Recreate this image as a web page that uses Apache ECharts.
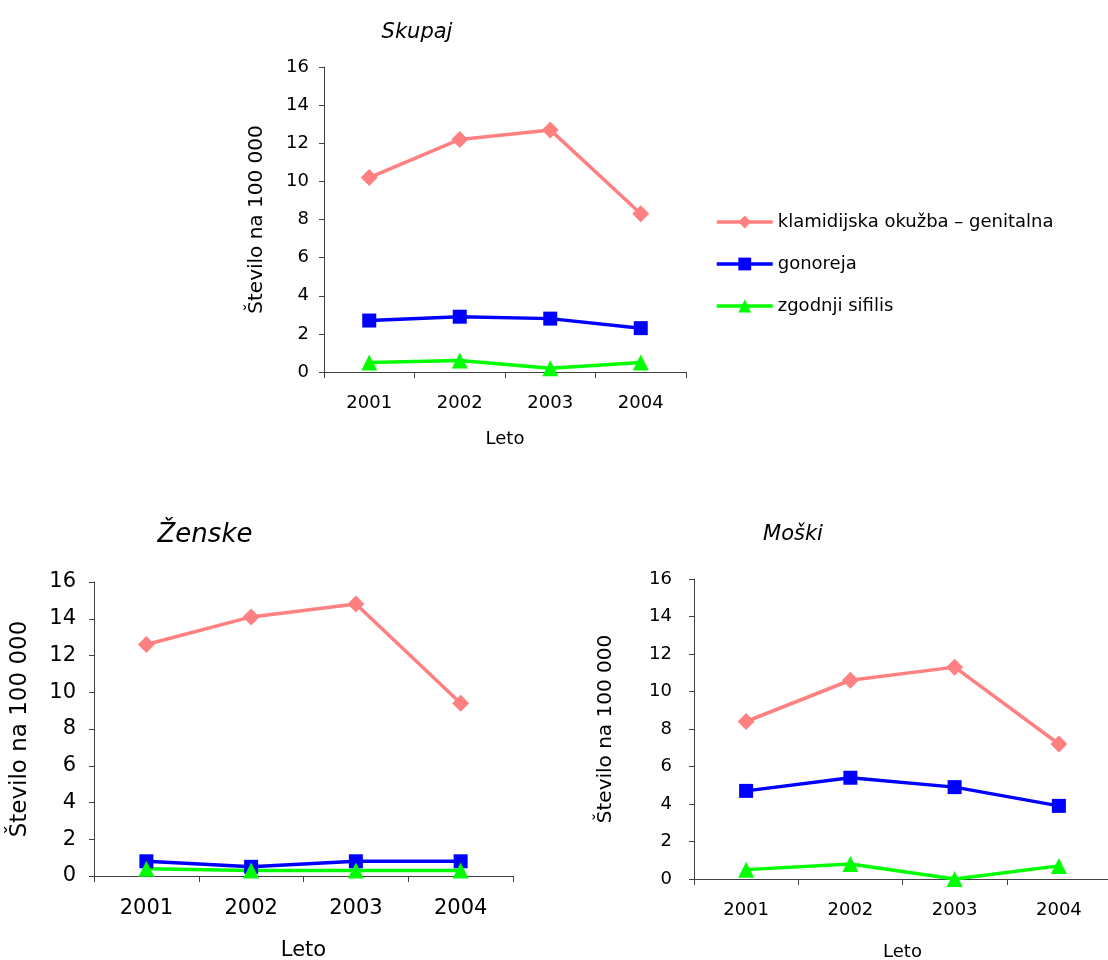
<!DOCTYPE html>
<html>
<head>
<meta charset="utf-8">
<script src="https://cdn.jsdelivr.net/npm/echarts@6/dist/echarts.min.js"></script>
<style>
  html, body { margin: 0; padding: 0; background: #fff; }
  #chart { width: 1108px; height: 960px; }
</style>
</head>
<body>
<div id="chart"></div>
<script>
// Years on the category axes
const years = ['2001', '2002', '2003', '2004'];
const yTicks = [0, 2, 4, 6, 8, 10, 12, 14, 16];

// Series names
const nameKlam = 'klamidijska okužba – genitalna';
const nameGon = 'gonoreja';
const nameSif = 'zgodnji sifilis';

// Skupaj (total), rate per 100 000
const skupajKlam = [10.2, 12.2, 12.7, 8.3];
const skupajGon = [2.7, 2.9, 2.8, 2.3];
const skupajSif = [0.5, 0.6, 0.2, 0.5];

// Ženske (women)
const zenskeKlam = [12.6, 14.1, 14.8, 9.4];
const zenskeGon = [0.8, 0.5, 0.8, 0.8];
const zenskeSif = [0.4, 0.3, 0.3, 0.3];

// Moški (men)
const moskiKlam = [8.4, 10.6, 11.3, 7.2];
const moskiGon = [4.7, 5.4, 4.9, 3.9];
const moskiSif = [0.5, 0.8, 0.0, 0.7];

const FONT = 'DejaVu Sans, Verdana, sans-serif';
const AXIS_COLOR = '#404040';
const COLORS = { klam: '#FF8080', gon: '#0000FF', sif: '#00FF00' };

function xAxisFor(gridIndex, fontSize, nameSize, nameGap, labelMargin) {
  return {
    type: 'category', gridIndex, data: years, boundaryGap: true,
    name: 'Leto', nameLocation: 'middle', nameGap,
    nameTextStyle: { fontFamily: FONT, fontSize: nameSize, color: '#000', verticalAlign: 'top' },
    axisLine: { show: true, lineStyle: { color: AXIS_COLOR, width: 1 } },
    axisTick: { show: true, inside: false, length: 6, alignWithLabel: false, lineStyle: { color: AXIS_COLOR } },
    axisLabel: { fontFamily: FONT, fontSize, color: '#000', margin: labelMargin },
    splitLine: { show: false }
  };
}

function yAxisFor(gridIndex, fontSize, nameSize, nameGap, labelMargin) {
  return {
    type: 'value', gridIndex, min: 0, max: 16, interval: 2,
    name: 'Število na 100 000', nameLocation: 'middle', nameGap, nameRotate: 90,
    nameTextStyle: { fontFamily: FONT, fontSize: nameSize, color: '#000' },
    axisLine: { show: true, lineStyle: { color: AXIS_COLOR, width: 1 } },
    axisTick: { show: true, inside: false, length: 5, lineStyle: { color: AXIS_COLOR } },
    axisLabel: { fontFamily: FONT, fontSize, color: '#000', margin: labelMargin,
      formatter: v => (yTicks.includes(v) ? String(v) : '') },
    splitLine: { show: false }
  };
}

function lineSeries(name, data, idx, color, symbol, size) {
  return {
    type: 'line', name, data, xAxisIndex: idx, yAxisIndex: idx,
    symbol, symbolSize: size, showSymbol: true, showAllSymbol: true,
    lineStyle: { color, width: 3.5 },
    itemStyle: { color, borderWidth: 0 },
    emphasis: { disabled: true },
    animation: false
  };
}

function seriesFor(idx, klam, gon, sif) {
  return [
    lineSeries(nameKlam, klam, idx, COLORS.klam, 'diamond', 17),
    lineSeries(nameGon, gon, idx, COLORS.gon, 'rect', 14),
    lineSeries(nameSif, sif, idx, COLORS.sif, 'triangle', 16)
  ];
}

const chart = echarts.init(document.getElementById('chart'), null, { renderer: 'canvas' });

chart.setOption({
  backgroundColor: '#ffffff',
  animation: false,
  title: [
    { text: 'Skupaj', left: 412, top: 17, textAlign: 'center',
      textStyle: { fontFamily: FONT, fontSize: 21, fontStyle: 'italic', fontWeight: 'normal', color: '#000' } },
    { text: 'Ženske', left: 200, top: 517, textAlign: 'center',
      textStyle: { fontFamily: FONT, fontSize: 26, fontStyle: 'italic', fontWeight: 'normal', color: '#000' } },
    { text: 'Moški', left: 788, top: 519, textAlign: 'center',
      textStyle: { fontFamily: FONT, fontSize: 21, fontStyle: 'italic', fontWeight: 'normal', color: '#000' } }
  ],
  legend: {
    orient: 'vertical', left: 715, top: 213, padding: 0,
    itemWidth: 56, itemHeight: 16, itemGap: 24,
    data: [nameKlam, nameGon, nameSif],
    lineStyle: { width: 3.5 },
    textStyle: { fontFamily: FONT, fontSize: 18, color: '#000' },
    selectedMode: false
  },
  grid: [
    { left: 324, top: 67, width: 362, height: 305, containLabel: false, outerBoundsMode: 'none' },
    { left: 94, top: 582, width: 419, height: 294, containLabel: false, outerBoundsMode: 'none' },
    { left: 694, top: 579, width: 417, height: 300, containLabel: false, outerBoundsMode: 'none' }
  ],
  xAxis: [
    xAxisFor(0, 18, 18, 58, 22),
    xAxisFor(1, 21, 21, 64, 22),
    xAxisFor(2, 18, 18, 64, 22)
  ],
  yAxis: [
    yAxisFor(0, 18, 20, 57, 15),
    yAxisFor(1, 21, 23, 62, 18),
    yAxisFor(2, 18, 20, 78, 22)
  ],
  series: [
    ...seriesFor(0, skupajKlam, skupajGon, skupajSif),
    ...seriesFor(1, zenskeKlam, zenskeGon, zenskeSif),
    ...seriesFor(2, moskiKlam, moskiGon, moskiSif)
  ]
});
</script>
</body>
</html>
